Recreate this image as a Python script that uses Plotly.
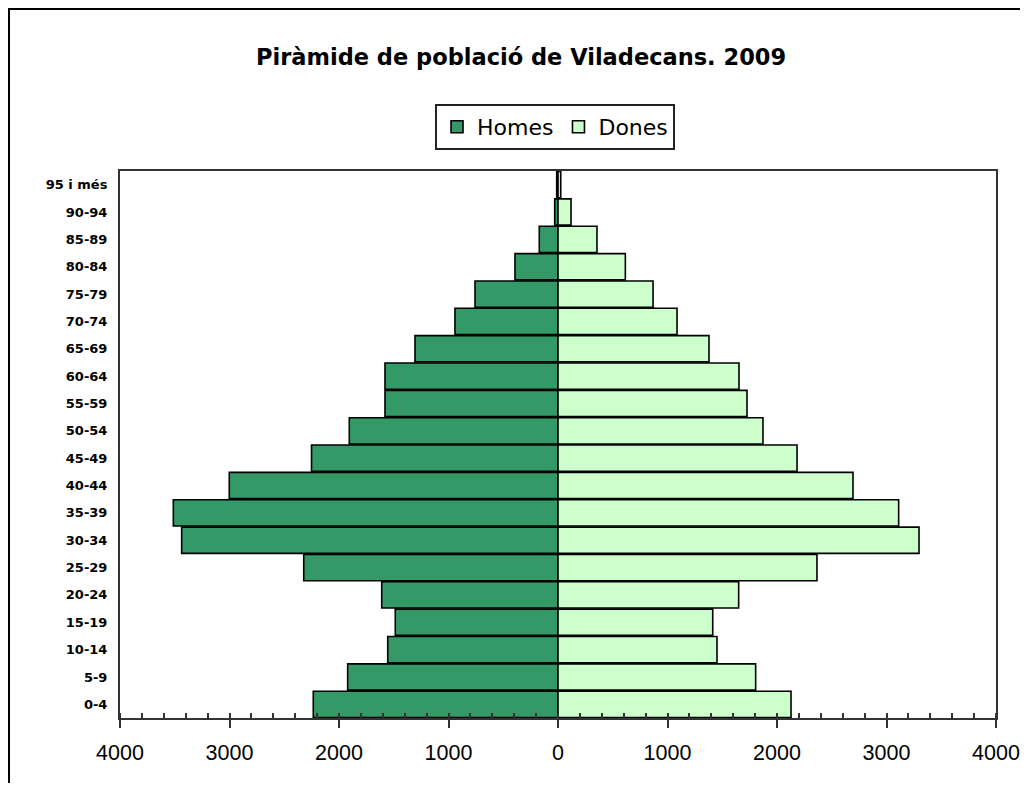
# Piràmide de població de Viladecans, 2009
import plotly.graph_objects as go

# Grups d'edat (de baix a dalt)
grups = ["0-4", "5-9", "10-14", "15-19", "20-24", "25-29", "30-34", "35-39",
         "40-44", "45-49", "50-54", "55-59", "60-64", "65-69", "70-74",
         "75-79", "80-84", "85-89", "90-94", "95 i més"]

homes = [2235, 1921, 1555, 1486, 1610, 2322, 3437, 3513, 3002, 2251,
         1906, 1580, 1580, 1306, 941, 758, 393, 171, 30, 12]

dones = [2128, 1805, 1452, 1413, 1650, 2365, 3297, 3111, 2694, 2183,
         1872, 1726, 1653, 1379, 1087, 868, 615, 356, 119, 25]

eix_vals = [-4000, -3000, -2000, -1000, 0, 1000, 2000, 3000, 4000]
eix_text = ["4000", "3000", "2000", "1000", "0", "1000", "2000", "3000", "4000"]

fig = go.Figure()

# Homes a l'esquerra (valors negatius)
fig.add_trace(go.Bar(
    y=grups, x=[-v for v in homes], orientation="h", name="Homes",
    marker=dict(color="#339966", line=dict(color="black", width=1.6)),
))
fig.add_trace(go.Bar(
    y=grups, x=dones, orientation="h", name="Dones",
    marker=dict(color="#CCFFCC", line=dict(color="black", width=1.6)),
))

fig.update_layout(
    width=1012, height=775,
    barmode="relative", bargap=0.04,
    paper_bgcolor="white", plot_bgcolor="white",
    margin=dict(l=112, r=24, t=163, b=65),
    font=dict(family="Liberation Sans, Arial", color="black"),
    title=dict(text="<b>Piràmide de població de Viladecans. 2009</b>",
               x=0.507, xanchor="center", y=0.937, yanchor="middle",
               font=dict(family="DejaVu Sans", size=22.5, color="black")),
    legend=dict(orientation="h", x=0.4966, xanchor="center", y=1.1225, yanchor="top",
                bordercolor="#222", borderwidth=2,
                font=dict(family="DejaVu Sans", size=22),
                itemwidth=30, tracegroupgap=0),
    showlegend=True,
)

fig.update_xaxes(
    range=[-4000, 4000], tickvals=eix_vals, ticktext=eix_text,
    showgrid=False, zeroline=False, automargin=False,
    showline=True, linecolor="#333", linewidth=2, mirror=True,
    ticks="outside", ticklen=8, tickwidth=2, tickcolor="#333",
    minor=dict(dtick=200, ticks="inside", ticklen=5, tickwidth=2, tickcolor="#333"),
    tickfont=dict(size=21.5), ticklabelstandoff=6, ticklabeloverflow="allow",
)
fig.update_yaxes(
    showgrid=False, zeroline=False, automargin=False,
    showline=True, linecolor="#333", linewidth=2, mirror=True,
    ticks="", tickfont=dict(family="DejaVu Sans", size=13, weight="bold"),
    ticklabelstandoff=8,
)

# Marc exterior del gràfic
fig.add_shape(type="rect", xref="paper", yref="paper",
              x0=-0.1267, x1=1.2, y0=-0.3, y1=1.2962,
              line=dict(color="black", width=2), layer="above")

fig.write_html("out.html")
